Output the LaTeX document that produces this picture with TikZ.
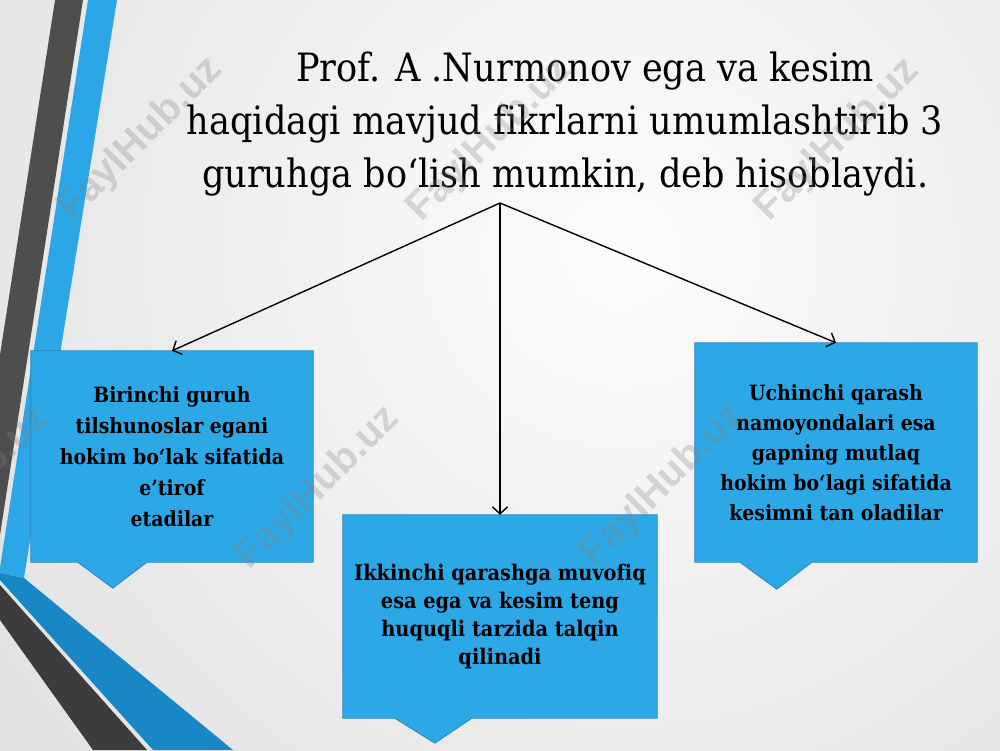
\documentclass[tikz,border=0pt]{standalone}
\usepackage{fontspec}
\setmainfont{DejaVu Serif Condensed}[Ligatures=NoCommon]
\setsansfont{Liberation Sans}
\usepackage{tikz}
\usetikzlibrary{positioning}
\usetikzlibrary{arrows.meta}

\definecolor{boxblue}{RGB}{45,168,230}
\definecolor{boxedge}{RGB}{38,132,196}
\definecolor{barblue}{RGB}{43,166,230}
\definecolor{banddark}{RGB}{60,60,60}
\definecolor{bandblue}{RGB}{23,135,198}
\definecolor{bargray}{RGB}{78,78,78}

\pgfdeclarelayer{bg}
\pgfdeclarelayer{boxes}
\pgfdeclarelayer{fg}
\pgfsetlayers{bg,boxes,main,fg}

\begin{document}
\begin{tikzpicture}[x=1pt,y=-1pt,
		titletext/.style={align=center,inner sep=0pt,font=\fontsize{39}{53}\selectfont},
		group/.style={rectangle,inner sep=0pt,align=center,font=\bfseries\fontsize{21}{31}\selectfont},
		callout/.style={fill=boxblue,draw=boxedge,line width=0.8pt},
		stamp/.style={rotate=45,text=gray,opacity=0.28,inner sep=0pt,font=\sffamily\bfseries\fontsize{40}{40}\selectfont}]
		\useasboundingbox (0,0) rectangle (1000,750);
		\clip (0,0) rectangle (1000,750);
		
		% slide background and the stripes on the left
		\begin{pgfonlayer}{bg}
		\shade[inner color=gray!2,outer color=gray!27] (620,250) circle (900);
		\fill[bargray] (55,0) -- (83,0) -- (0,535) -- (0,355) -- cycle;
		\fill[barblue] (88,0) -- (117,0) -- (24,578) -- (0,573) -- (0,568) -- cycle;
		\fill[bandblue] (0,573) -- (24,578) -- (233,750) -- (153,750) -- (0,580) -- cycle;
		\fill[banddark] (0,585) -- (147,750) -- (93,750) -- (0,620) -- cycle;
		\end{pgfonlayer}
		
		\node[titletext] (title) at (565,124) {\hspace*{40pt}Prof. A .Nurmonov ega va kesim\\
			haqidagi mavjud fikrlarni umumlashtirib 3\\
			guruhga bo‘lish mumkin, deb hisoblaydi.};
		\coordinate (split) at (500,203);
		
		\node[group,minimum width=282pt,minimum height=211pt] (g_1) at (172,456.5)
			{Birinchi guruh\\ tilshunoslar egani\\ hokim bo‘lak sifatida\\ e’tirof\\ etadilar};
		\node[group,minimum width=314pt,minimum height=203pt,font=\bfseries\fontsize{21.5}{28}\selectfont] (g_2) at (500,616.5)
			{Ikkinchi qarashga muvofiq\\ esa ega va kesim teng\\ huquqli tarzida talqin\\ qilinadi};
		\node[group,minimum width=282pt,minimum height=219pt,font=\bfseries\fontsize{21}{30}\selectfont] (g_3) at (836,452.5)
			{Uchinchi qarash\\ namoyondalari esa\\ gapning mutlaq\\ hokim bo‘lagi sifatida\\ kesimni tan oladilar};
		
		% the boxes with their pointers
		\begin{pgfonlayer}{boxes}
		\path[callout] (g_1.north west) -- (g_1.north east) -- (g_1.south east)
			-- ([xshift=116pt]g_1.south west) -- ([xshift=82pt,yshift=-26pt]g_1.south west)
			-- ([xshift=47pt]g_1.south west) -- (g_1.south west) -- cycle;
		\path[callout] (g_2.north west) -- (g_2.north east) -- (g_2.south east)
			-- ([xshift=129pt]g_2.south west) -- ([xshift=92pt,yshift=-25pt]g_2.south west)
			-- ([xshift=52pt]g_2.south west) -- (g_2.south west) -- cycle;
		\path[callout] (g_3.north west) -- (g_3.north east) -- (g_3.south east)
			-- ([xshift=117pt]g_3.south west) -- ([xshift=82pt,yshift=-27pt]g_3.south west)
			-- ([xshift=45pt]g_3.south west) -- (g_3.south west) -- cycle;
		\end{pgfonlayer}
		
		\path[-{Straight Barb[length=7pt,width=15pt]},line width=1.4pt]
		(split) edge (g_1.north)
		        edge (g_2.north)
		        edge (g_3.north);
		
		% watermark
		\begin{pgfonlayer}{fg}
		\node[stamp] (w_1) at (141,139) {FaylHub.uz};
		\node[stamp] (w_2) at (490,140) {FaylHub.uz};
		\node[stamp] (w_3) at (838,140) {FaylHub.uz};
		\node[stamp] (w_4) at (-32,488) {FaylHub.uz};
		\node[stamp] (w_5) at (318,488) {FaylHub.uz};
		\node[stamp] (w_6) at (663,485) {FaylHub.uz};
		\end{pgfonlayer}
	\end{tikzpicture}
\end{document}
